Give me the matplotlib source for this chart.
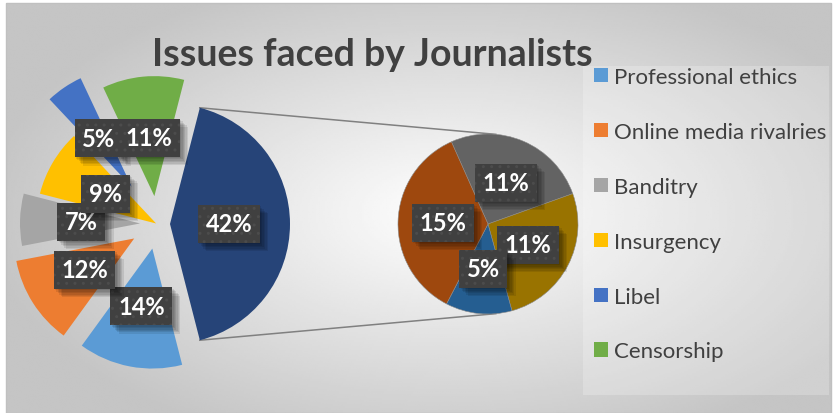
import math
import matplotlib
matplotlib.use("Agg")
import matplotlib.pyplot as plt
import matplotlib.patheffects as pe
from matplotlib.patches import Rectangle
import numpy as np

plt.rcParams['font.family'] = ['Lato', 'DejaVu Sans']

# primary pie, clockwise from the grouped slice
main_labels = ["Other", "Professional ethics", "Online media rivalries", "Banditry",
               "Insurgency", "Libel", "Censorship"]
main_values = [42, 14, 12, 7, 9, 5, 11]
# secondary pie: breakdown of the grouped 42%
other_values = [11, 11, 5, 15]

main_colors = ["#264478", "#5B9BD5", "#ED7D31", "#A5A5A5", "#FFC000", "#4472C4", "#70AD47"]
other_colors = ["#636363", "#997300", "#255E91", "#9E480E"]
main_explode = [13, 25, 27, 17, 1, 45, 28]


class SoftShadow(pe.AbstractPathEffect):
    """Plain dark copy of the path, shifted, without hatching."""

    def __init__(self, offset, alpha):
        super().__init__(offset)
        self.alpha = alpha

    def draw_path(self, renderer, gc, tpath, affine, rgbFace=None):
        gc0 = renderer.new_gc()
        gc0.copy_properties(gc)
        gc0.set_hatch(None)
        gc0.set_linewidth(0)
        gc0.set_alpha(self.alpha)
        renderer.draw_path(gc0, tpath, affine + self._offset_transform(renderer),
                           (0, 0, 0))
        gc0.restore()


W, H = 836, 414
fig = plt.figure(figsize=(W / 100, H / 100), dpi=100)
ax = fig.add_axes([0, 0, 1, 1])

# chart area with a radial grey-to-white fill
x0, x1, y0, y1 = 6, 831, 0, 410
gx, gy = np.meshgrid(np.linspace(x0, x1, 400), np.linspace(y0, y1, 200))
t = np.clip(np.sqrt(((gx - 450) / 470) ** 2 + ((gy - 200) / 250) ** 2), 0, 1)
shade = 1 - t * 0.23
ax.imshow(shade, extent=(x0, x1, y0, y1), origin='lower', cmap='gray',
          vmin=0, vmax=1, zorder=0, aspect='auto', interpolation='bilinear')
ax.add_patch(Rectangle((x0, y0), x1 - x0, y1 - y0, fill=False,
                       ec='#c0c0c0', lw=1, zorder=0.5))
# legend panel
ax.add_patch(Rectangle((583, 18), 246, 329, fc='white', alpha=0.22,
                       ec='none', zorder=0.6))


def pct_of(vals):
    total = sum(vals)
    return lambda p: f"{p * total / 100:.0f}%"


label_style = dict(color='white', fontsize=17, fontweight='bold')

wedges1, _, auto1 = ax.pie(main_values, colors=main_colors, explode=main_explode,
                           radius=120, center=(157, 189),
                           startangle=main_values[0] * 3.6 / 2, counterclock=False,
                           autopct=pct_of(main_values), pctdistance=0.49,
                           textprops=label_style, frame=True)

wedges2, _, auto2 = ax.pie(other_values, colors=other_colors, radius=90,
                           center=(488, 189), startangle=114, counterclock=False,
                           autopct=pct_of(other_values), pctdistance=0.5,
                           textprops=label_style, frame=True,
                           wedgeprops=dict(ec='#8a8a8a', lw=0.4))

# dark label boxes with a soft drop shadow
shadow = [SoftShadow((d, -d), 0.09) for d in (1, 2, 3, 4, 5, 6)]
for txt in auto1 + auto2:
    txt.set_bbox(dict(boxstyle='square,pad=0.32', fc='#404040', ec='#4c4c4c',
                      lw=0, hatch='..'))
    txt.get_bbox_patch().set_path_effects(shadow + [pe.Normal()])
    txt.set_zorder(5)

# connector lines from the grouped slice to the secondary pie
other = wedges1[0]
sec = wedges2[0]
for a1, a2 in [(other.theta2, 85), (other.theta1, -85)]:
    px = other.center[0] + other.r * math.cos(math.radians(a1))
    py = other.center[1] + other.r * math.sin(math.radians(a1))
    qx = sec.center[0] + sec.r * math.cos(math.radians(a2))
    qy = sec.center[1] + sec.r * math.sin(math.radians(a2))
    ax.plot([px, qx], [py, qy], color='#808080', lw=1.1, zorder=0.8)

ax.text(372, 348, "Issues faced by Journalists", ha='center', va='baseline',
        fontsize=27, fontweight='bold', color='#404040')

ax.legend(wedges1[1:], main_labels[1:], loc='upper left',
          bbox_to_anchor=(594 / W, 346 / H), frameon=False, fontsize=16,
          labelspacing=1.57, handlelength=0.62, handleheight=0.62,
          handletextpad=0.3, labelcolor='#404040', borderaxespad=0, borderpad=0)

ax.set_xlim(0, W)
ax.set_ylim(0, H)
ax.set_axis_off()

fig.savefig("out.png", dpi=100)
